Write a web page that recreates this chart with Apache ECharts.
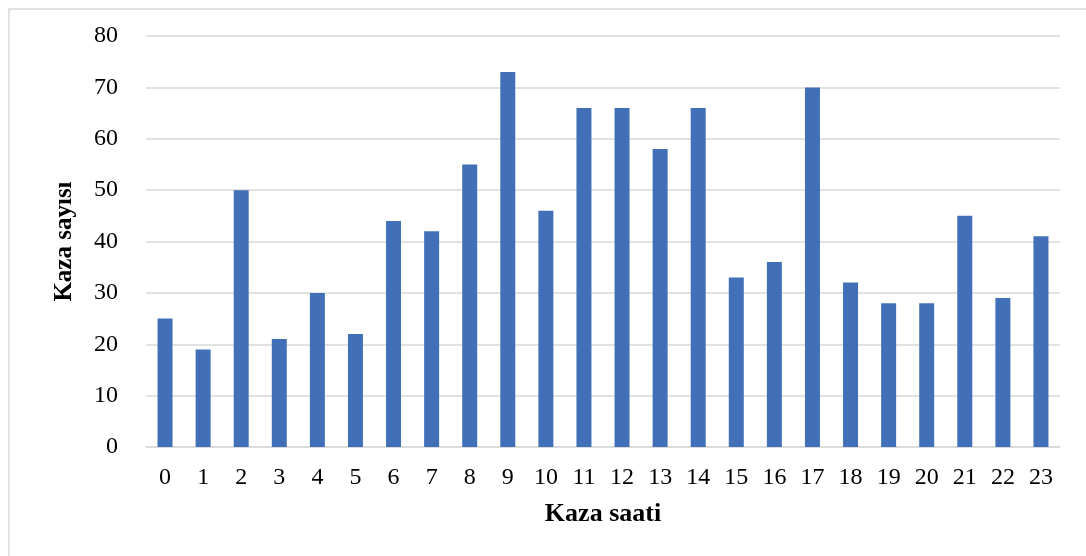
<!DOCTYPE html>
<html>
<head>
<meta charset="utf-8">
<script src="https://cdn.jsdelivr.net/npm/echarts@6/dist/echarts.min.js"></script>
<style>
html,body{margin:0;padding:0;background:#fff;}
#c{width:1086px;height:556px;}
</style>
</head>
<body>
<div id="c"></div>
<script>
const hours = ['0','1','2','3','4','5','6','7','8','9','10','11','12','13','14','15','16','17','18','19','20','21','22','23'];
const accidents = [25,19,50,21,30,22,44,42,55,73,46,66,66,58,66,33,36,70,32,28,28,45,29,41];
const yTicks = {min:0, max:80, interval:10};

const chart = echarts.init(document.getElementById('c'), null, {renderer:'canvas'});
const serif = '"Liberation Serif","Times New Roman",serif';
chart.setOption({
  animation:false,
  backgroundColor:'#fff',
  graphic:[{type:'rect', shape:{x:9,y:9,width:1200,height:700}, style:{fill:'none',stroke:'#d9d9d9',lineWidth:1.5}, silent:true}],
  grid:{left:146,right:26,top:36,bottom:109},
  xAxis:{
    type:'category', data:hours,
    name:'Kaza saati', nameLocation:'middle', nameGap:54,
    nameTextStyle:{fontFamily:serif,fontSize:26,fontWeight:'bold',color:'#000'},
    axisLine:{show:true,lineStyle:{color:'#d9d9d9',width:1.5}},
    axisTick:{show:false},
    axisLabel:{fontFamily:serif,fontSize:24,color:'#000',margin:19,interval:0}
  },
  yAxis:{
    type:'value', min:yTicks.min, max:yTicks.max, interval:yTicks.interval,
    name:'Kaza sayısı', nameLocation:'middle', nameGap:69, nameRotate:90,
    nameTextStyle:{fontFamily:serif,fontSize:25,fontWeight:'bold',color:'#000'},
    axisLine:{show:false}, axisTick:{show:false},
    axisLabel:{fontFamily:serif,fontSize:24,color:'#000',margin:28},
    splitLine:{lineStyle:{color:'#d9d9d9',width:1.5}}
  },
  series:[{type:'bar', data:accidents, barWidth:15, itemStyle:{color:'#4170b9'}}]
});
</script>
</body>
</html>
